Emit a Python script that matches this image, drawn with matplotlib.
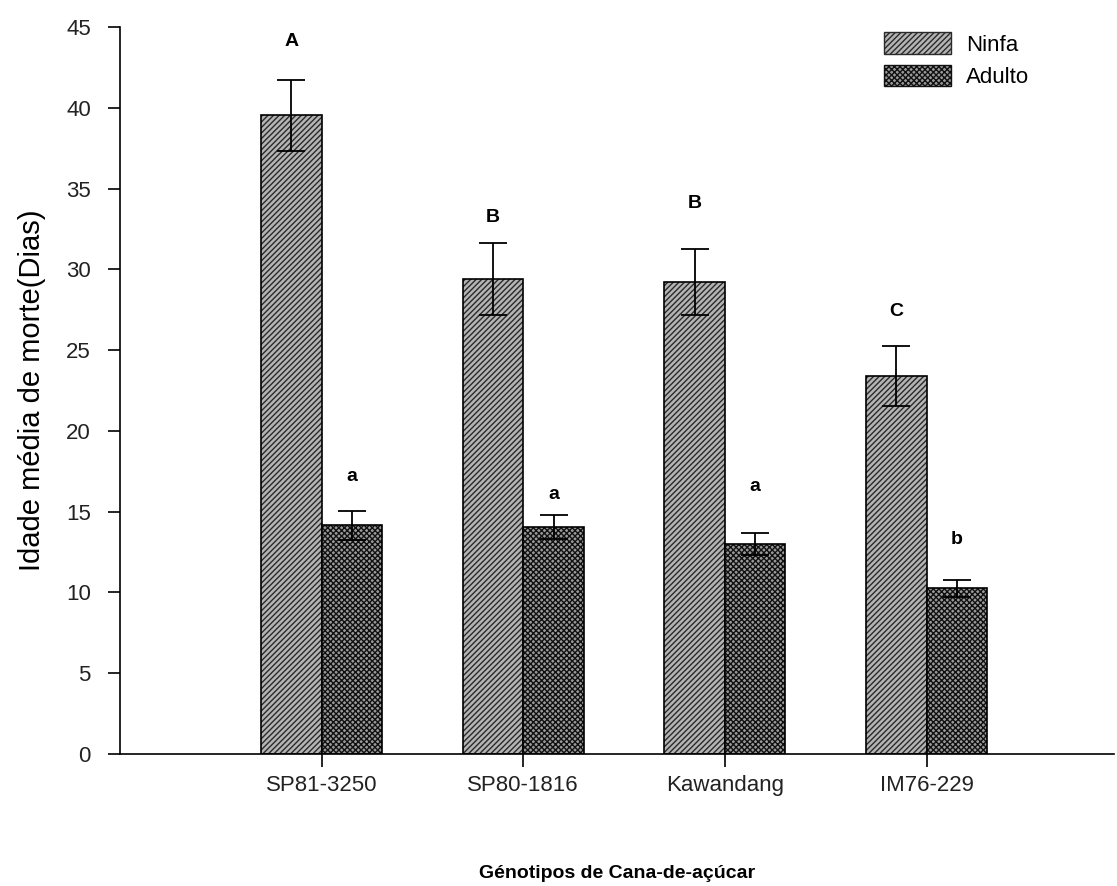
import matplotlib.pyplot as plt
import numpy as np
from matplotlib.patches import Patch

plt.rcParams['font.family'] = ['Liberation Sans', 'DejaVu Sans']
plt.rcParams['hatch.linewidth'] = 1.0

genotipos = ["SP81-3250", "SP80-1816", "Kawandang", "IM76-229"]
ninfa = [39.55, 29.4, 29.2, 23.4]
ninfa_err = [2.2, 2.2, 2.05, 1.85]
adulto = [14.15, 14.05, 13.0, 10.25]
adulto_err = [0.9, 0.75, 0.7, 0.55]
letras_ninfa = ["A", "B", "B", "C"]
letras_adulto = ["a", "a", "a", "b"]
# heights of the significance letters
y_letras_ninfa = [44.1, 33.2, 34.1, 27.4]
y_letras_adulto = [17.2, 16.05, 16.55, 13.25]

x = np.arange(len(genotipos))
w = 0.3

fig = plt.figure(figsize=(11.17, 8.86), dpi=100)
ax = fig.add_axes([0.1074, 0.149, 0.89, 0.8205])

# Ninfa bars
ax.bar(x - w / 2, ninfa, w, color="#b4b4b4", edgecolor="#2a2a2a", hatch="//////", linewidth=0)
ax.bar(x - w / 2, ninfa, w, fill=False, edgecolor="black", linewidth=1.2)
# Adulto bars
ax.bar(x + w / 2, adulto, w, color="#9a9a9a", edgecolor="#111111", hatch="xxxxxx", linewidth=0)
ax.bar(x + w / 2, adulto, w, fill=False, edgecolor="black", linewidth=1.2)

ax.errorbar(x - w / 2, ninfa, yerr=ninfa_err, fmt="none", ecolor="black", elinewidth=1.3, capsize=10, capthick=1.3)
ax.errorbar(x + w / 2, adulto, yerr=adulto_err, fmt="none", ecolor="black", elinewidth=1.3, capsize=10, capthick=1.3)

for i in range(len(genotipos)):
    ax.text(x[i] - w / 2, y_letras_ninfa[i], letras_ninfa[i], ha="center", va="center",
            fontsize=14, fontweight="bold")
    ax.text(x[i] + w / 2, y_letras_adulto[i], letras_adulto[i], ha="center", va="center",
            fontsize=14, fontweight="bold")

# legend
handles = [Patch(facecolor="#b4b4b4", edgecolor="#2a2a2a", hatch="//////", label="Ninfa"),
           Patch(facecolor="#9a9a9a", edgecolor="#111111", hatch="xxxxxx", label="Adulto")]
ax.legend(handles=handles, loc="upper right", bbox_to_anchor=(0.935, 1.02), frameon=False, fontsize=16,
          handlelength=3.0, handleheight=1.1, labelspacing=0.4, handletextpad=0.7)

ax.set_xlim(-1, 3.93)
ax.set_ylim(0, 45)
ax.set_yticks(np.arange(0, 46, 5))
ax.set_xticks(x)
ax.set_xticklabels(genotipos)
ax.tick_params(axis="both", labelsize=16, labelcolor="#222222", direction="out", length=9, width=1.2)
ax.tick_params(axis="y", pad=12)
ax.tick_params(axis="x", pad=6)
ax.spines["top"].set_visible(False)
ax.spines["right"].set_visible(False)
ax.spines["left"].set_linewidth(1.2)
ax.spines["bottom"].set_linewidth(1.2)

ax.set_ylabel("Idade média de morte(Dias)", fontsize=21, labelpad=14)
ax.set_xlabel("Génotipos de Cana-de-açúcar", fontsize=14, fontweight="bold", labelpad=50)

fig.savefig("out.png", dpi=100)
